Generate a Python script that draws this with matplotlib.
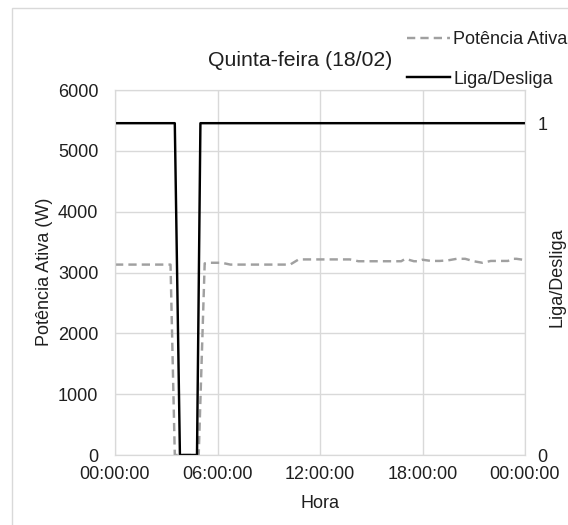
import matplotlib.pyplot as plt
from matplotlib.patches import Rectangle

plt.rcParams['font.family'] = ['Liberation Sans', 'DejaVu Sans']

# potencia ativa (W) ao longo do dia, hora em horas decimais
hora_pot = [0, 1, 2, 3, 3.25, 3.5, 4, 4.5, 4.9, 5.25, 5.5, 6.25, 6.75, 7, 8, 9, 10.25,
            10.75, 12, 13, 13.75, 14.25, 15, 16, 16.75, 17, 17.5, 17.75, 18, 18.5, 19,
            19.5, 20, 20.5, 21, 21.5, 21.75, 22, 23, 23.25, 23.5, 24]
potencia = [3130, 3130, 3130, 3130, 3130, 0, 0, 0, 0, 3150, 3160, 3160, 3130, 3130, 3130,
            3130, 3130, 3215, 3215, 3215, 3215, 3185, 3185, 3185, 3185, 3225, 3185, 3185,
            3210, 3190, 3190, 3200, 3225, 3225, 3185, 3160, 3175, 3190, 3190, 3225, 3225, 3205]

# estado do equipamento
hora_liga = [0, 3.5, 3.8, 4.8, 5.0, 24]
liga = [1, 1, 0, 0, 1, 1]

xticks = [0, 6, 12, 18, 24]
xlabels = ["00:00:00", "06:00:00", "12:00:00", "18:00:00", "00:00:00"]

fs = 13
grid_c = "#d9d9d9"
txt_c = "#1f1f1f"

fig = plt.figure(figsize=(5.68, 5.25), dpi=100)
ax = fig.add_axes([115 / 568, 70 / 525, 410 / 568, 365 / 525])
ax2 = ax.twinx()

# borda da area do grafico
fig.patches.append(Rectangle((12 / 568, -0.1), 1.2, (525 - 8) / 525 + 0.1,
                             transform=fig.transFigure, fill=False,
                             edgecolor=grid_c, lw=1))

l1, = ax.plot(hora_pot, potencia, color="#a0a0a0", lw=1.75,
              linestyle=(0, (3.4, 2.1)), label="Potência Ativa")
l2, = ax2.plot(hora_liga, liga, color="black", lw=1.75, label="Liga/Desliga")

ax.set_xlim(0, 24)
ax.set_ylim(0, 6000)
ax.set_yticks(range(0, 6001, 1000))
ax.set_xticks(xticks)
ax.set_xticklabels(xlabels)
ax.grid(True, color=grid_c, lw=1)
ax.set_axisbelow(True)
ax2.set_ylim(0, 1.1)
ax2.set_yticks([0, 1])

for a in (ax, ax2):
    a.tick_params(length=0, labelsize=fs, colors=txt_c)
    for s in a.spines.values():
        s.set_color(grid_c)
ax.tick_params(axis="y", pad=12)
ax.tick_params(axis="x", pad=8)
ax2.tick_params(axis="y", pad=9)

fig.text(45 / 568, 1 - 272 / 525, "Potência Ativa (W)", rotation=90, fontsize=fs,
         ha="center", va="center", color=txt_c)
fig.text(557 / 568, 1 - 277 / 525, "Liga/Desliga", rotation=90, fontsize=fs,
         ha="center", va="center", color=txt_c)
fig.text(320 / 568, 1 - 503 / 525, "Hora", fontsize=fs, ha="center", va="center",
         color=txt_c)
fig.text(300 / 568, 1 - 61 / 525, "Quinta-feira (18/02)", fontsize=15.3,
         ha="center", va="center", color=txt_c)

fig.legend(handles=[l1, l2], loc="upper left", bbox_to_anchor=(398 / 568, 1 - 22 / 525),
           frameon=False, fontsize=fs, handlelength=2.4, handletextpad=0.15,
           labelspacing=1.25, borderpad=0, labelcolor=txt_c)

fig.savefig("out.png", dpi=100)
